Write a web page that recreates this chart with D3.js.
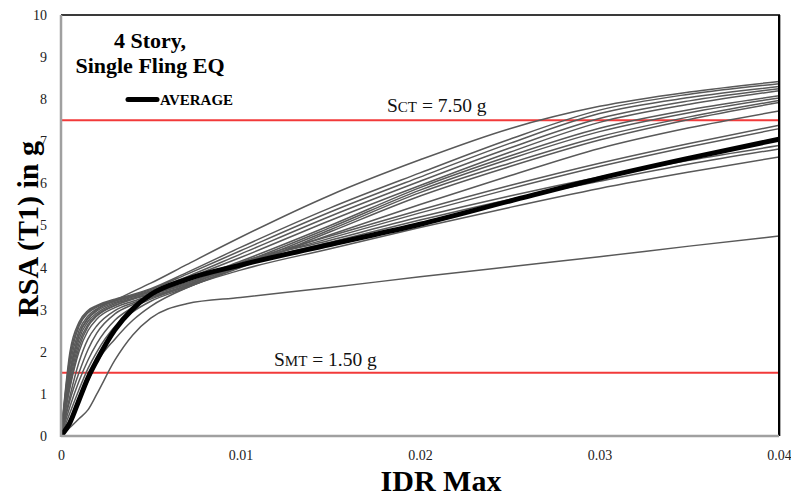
<!DOCTYPE html>
<html>
<head>
<meta charset="utf-8">
<script src="https://cdn.jsdelivr.net/npm/d3@7/dist/d3.min.js"></script>
<style>
  html, body { margin: 0; padding: 0; background: #fff; }
  svg { display: block; }
</style>
</head>
<body>
<svg id="chart" width="791" height="496"></svg>
<script>
// IDA curves: spectral acceleration vs. maximum inter-story drift ratio
const idrMax = [0, 0.0005, 0.001, 0.0015, 0.002, 0.003, 0.004, 0.005, 0.007, 0.01, 0.015, 0.02, 0.025, 0.03, 0.035, 0.04];

// one row per ground-motion record, RSA (g) at each idrMax value
const recordCurves = [
  [0, 1.50, 2.40, 2.80, 3.00, 3.22, 3.43, 3.63, 4.07, 4.72, 5.72, 6.56, 7.30, 7.83, 8.17, 8.42],
  [0, 2.00, 2.70, 2.98, 3.10, 3.25, 3.36, 3.50, 3.88, 4.48, 5.42, 6.25, 7.05, 7.74, 8.12, 8.37],
  [0, 1.80, 2.60, 2.92, 3.06, 3.22, 3.34, 3.48, 3.84, 4.40, 5.32, 6.15, 6.95, 7.66, 8.04, 8.30],
  [0, 1.70, 2.50, 2.85, 3.02, 3.20, 3.32, 3.45, 3.78, 4.32, 5.22, 6.05, 6.84, 7.54, 7.96, 8.25],
  [0, 1.55, 2.40, 2.78, 2.97, 3.17, 3.30, 3.42, 3.74, 4.24, 5.12, 5.95, 6.74, 7.45, 7.88, 8.20],
  [0, 1.90, 2.65, 2.95, 3.08, 3.22, 3.32, 3.42, 3.68, 4.15, 5.00, 5.90, 6.65, 7.31, 7.75, 8.08],
  [0, 1.40, 2.30, 2.72, 2.92, 3.14, 3.27, 3.38, 3.64, 4.10, 4.95, 5.84, 6.58, 7.23, 7.68, 8.03],
  [0, 1.30, 2.20, 2.65, 2.88, 3.10, 3.25, 3.36, 3.60, 4.05, 4.90, 5.78, 6.48, 7.11, 7.58, 7.97],
  [0, 1.15, 2.00, 2.50, 2.78, 3.05, 3.20, 3.33, 3.56, 4.00, 4.85, 5.70, 6.40, 7.03, 7.52, 7.92],
  [0, 0.95, 1.75, 2.30, 2.62, 2.98, 3.16, 3.30, 3.54, 4.02, 4.78, 5.50, 6.18, 6.83, 7.32, 7.72],
  [0, 1.20, 2.10, 2.60, 2.85, 3.10, 3.26, 3.38, 3.62, 4.12, 4.75, 5.37, 5.95, 6.48, 6.95, 7.38],
  [0, 0.85, 1.50, 2.05, 2.45, 2.90, 3.12, 3.28, 3.58, 4.08, 4.70, 5.30, 5.87, 6.40, 6.87, 7.30],
  [0, 0.70, 1.30, 1.80, 2.20, 2.75, 3.05, 3.25, 3.56, 4.10, 4.65, 5.20, 5.70, 6.15, 6.55, 6.90],
  [0, 0.55, 1.10, 1.60, 2.00, 2.60, 2.95, 3.20, 3.52, 4.05, 4.60, 5.13, 5.62, 6.05, 6.46, 6.82],
  [0, 0.35, 0.80, 1.30, 1.75, 2.30, 2.75, 3.08, 3.52, 3.94, 4.45, 4.95, 5.43, 5.88, 6.27, 6.63],
  [0, 0.20, 0.41, 0.62, 1.00, 1.80, 2.40, 2.80, 3.14, 3.29, 3.53, 3.78, 4.02, 4.26, 4.51, 4.75]
];

const averageRSA = [0, 0.32, 0.85, 1.38, 1.80, 2.52, 3.02, 3.36, 3.72, 4.06, 4.55, 5.03, 5.58, 6.12, 6.60, 7.05];

const xTicks = [0, 0.01, 0.02, 0.03, 0.04];
const xTickLabels = ["0", "0.01", "0.02", "0.03", "0.04"];
const yTicks = [0, 1, 2, 3, 4, 5, 6, 7, 8, 9, 10];

const smtValue = 1.50;
const sctValue = 7.50;

// ---- layout
const svg = d3.select("#chart");
const plot = { left: 61, right: 779, top: 15, bottom: 436 };
const serif = "'Liberation Serif', 'Times New Roman', serif";

const x = d3.scaleLinear().domain([0, 0.04]).range([plot.left, plot.right]);
const y = d3.scaleLinear().domain([0, 10]).range([plot.bottom, plot.top]);

svg.append("rect").attr("width", 791).attr("height", 496).attr("fill", "#fff");

// ---- axes (labels only, no tick marks)
const xAxis = d3.axisBottom(x).tickValues(xTicks)
  .tickFormat((d, i) => xTickLabels[i]).tickSize(0).tickPadding(14);
const gx = svg.append("g").attr("transform", `translate(0,${plot.bottom})`).call(xAxis);
gx.select(".domain").remove();
gx.selectAll("text").attr("font-family", serif).attr("font-size", 14).attr("fill", "#222");

const yAxis = d3.axisLeft(y).tickValues(yTicks).tickSize(0).tickPadding(14);
const gy = svg.append("g").attr("transform", `translate(${plot.left},0)`).call(yAxis);
gy.select(".domain").remove();
gy.selectAll("text").attr("font-family", serif).attr("font-size", 14).attr("fill", "#222");

// ---- threshold lines
const thresholds = [smtValue, sctValue];
svg.selectAll("line.threshold").data(thresholds).enter().append("line")
  .attr("class", "threshold")
  .attr("x1", plot.left).attr("x2", plot.right)
  .attr("y1", d => y(d)).attr("y2", d => y(d))
  .attr("stroke", "#f23a3a").attr("stroke-width", 2);

// ---- curves
const line = d3.line()
  .x((d, i) => x(idrMax[i]))
  .y(d => y(d))
  .curve(d3.curveMonotoneX);

svg.append("clipPath").attr("id", "plotClip").append("rect")
  .attr("x", plot.left).attr("y", plot.top)
  .attr("width", plot.right - plot.left).attr("height", plot.bottom - plot.top);

const curves = svg.append("g").attr("clip-path", "url(#plotClip)");
curves.selectAll("path.record").data(recordCurves).enter().append("path")
  .attr("class", "record")
  .attr("d", line)
  .attr("fill", "none")
  .attr("stroke", "#595959")
  .attr("stroke-width", 1.5);

curves.append("path")
  .datum(averageRSA)
  .attr("d", line)
  .attr("fill", "none")
  .attr("stroke", "#000")
  .attr("stroke-width", 5)
  .attr("stroke-linejoin", "round");

// ---- plot frame
svg.append("line").attr("x1", plot.left).attr("x2", plot.right + 1)
  .attr("y1", plot.top).attr("y2", plot.top)
  .attr("stroke", "#3a3a3a").attr("stroke-width", 2);
svg.append("line").attr("x1", plot.right).attr("x2", plot.right)
  .attr("y1", plot.top).attr("y2", plot.bottom)
  .attr("stroke", "#000").attr("stroke-width", 2);
svg.append("line").attr("x1", plot.right + 1.5).attr("x2", plot.right + 1.5)
  .attr("y1", plot.top).attr("y2", plot.bottom)
  .attr("stroke", "#aaa").attr("stroke-width", 1);
svg.append("line").attr("x1", plot.left).attr("x2", plot.left)
  .attr("y1", plot.top).attr("y2", plot.bottom + 1)
  .attr("stroke", "#a0a0a0").attr("stroke-width", 2.5);
svg.append("line").attr("x1", plot.left).attr("x2", plot.right)
  .attr("y1", plot.bottom).attr("y2", plot.bottom)
  .attr("stroke", "#a0a0a0").attr("stroke-width", 2.5);

// ---- threshold labels
function thresholdLabel(sub, value, lx, ly) {
  const t = svg.append("text").attr("x", lx).attr("y", ly)
    .attr("font-family", serif).attr("font-size", 19.5).attr("fill", "#111");
  t.append("tspan").text("S");
  t.append("tspan").attr("font-size", 15).text(sub);
  t.append("tspan").text(` = ${value.toFixed(2)} g`);
}
thresholdLabel("CT", sctValue, 387, 112);
thresholdLabel("MT", smtValue, 274, 366);

// ---- title
svg.append("text").attr("x", 150).attr("y", 48).attr("text-anchor", "middle")
  .attr("font-family", serif).attr("font-weight", "bold").attr("font-size", 22)
  .attr("fill", "#000").text("4 Story,");
svg.append("text").attr("x", 150).attr("y", 73).attr("text-anchor", "middle")
  .attr("font-family", serif).attr("font-weight", "bold").attr("font-size", 22)
  .attr("fill", "#000").text("Single Fling EQ");

// ---- legend
svg.append("line").attr("x1", 128).attr("x2", 157).attr("y1", 99.5).attr("y2", 99.5)
  .attr("stroke", "#000").attr("stroke-width", 5).attr("stroke-linecap", "round");
svg.append("text").attr("x", 160).attr("y", 104.5)
  .attr("font-family", serif).attr("font-weight", "bold").attr("font-size", 15)
  .attr("fill", "#000").text("AVERAGE");

// ---- axis titles
svg.append("text").attr("x", 441).attr("y", 491).attr("text-anchor", "middle")
  .attr("font-family", serif).attr("font-weight", "bold").attr("font-size", 30)
  .attr("fill", "#000").text("IDR Max");
svg.append("text")
  .attr("transform", "translate(38,229) rotate(-90)")
  .attr("text-anchor", "middle")
  .attr("font-family", serif).attr("font-weight", "bold").attr("font-size", 30)
  .attr("fill", "#000").text("RSA (T1) in g");
</script>
</body>
</html>
